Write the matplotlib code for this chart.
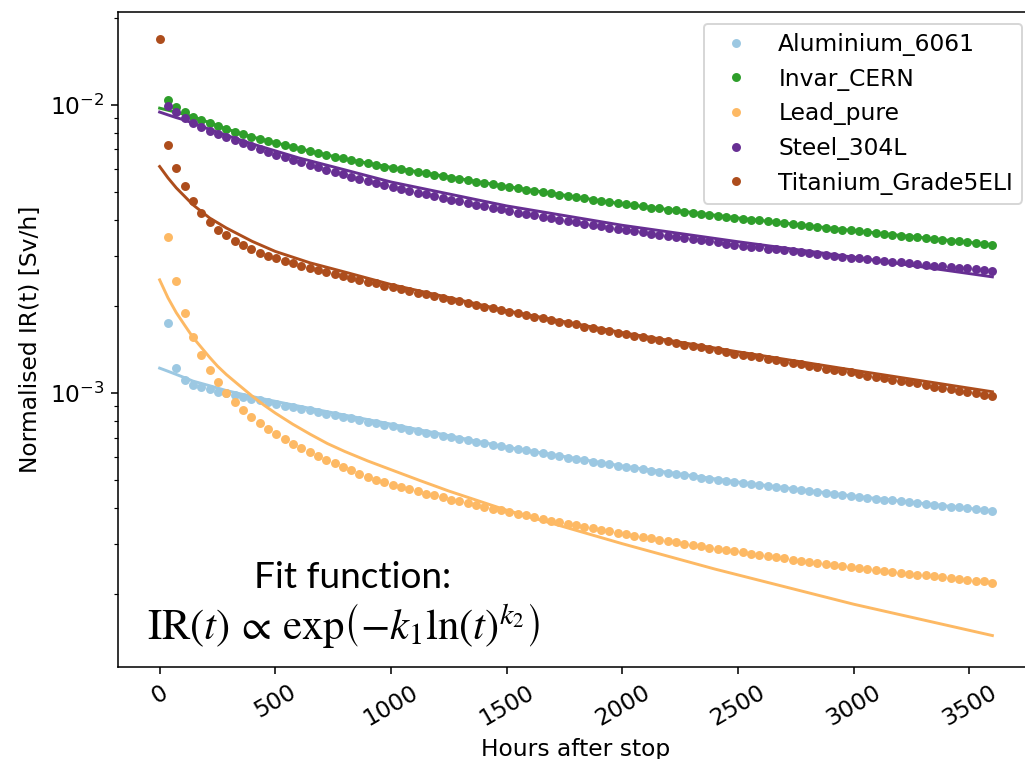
import matplotlib.pyplot as plt
import numpy as np

plt.rcParams['font.size'] = 12

# measurement times (hours after stop), one point every 36 h
hours = list(range(36, 3601, 36))
hours_ti = [0] + hours

# normalised dose rates, in units of 1e-3 Sv/h
al_6061 = [1.75, 1.22, 1.11, 1.07, 1.05, 1.03, 1.01, 0.997, 0.983, 0.969,
           0.955, 0.942, 0.929, 0.917, 0.904, 0.893, 0.881, 0.870, 0.858, 0.847,
           0.837, 0.826, 0.816, 0.805, 0.795, 0.785, 0.775, 0.766, 0.756, 0.747,
           0.738, 0.729, 0.720, 0.711, 0.702, 0.694, 0.686, 0.678, 0.670, 0.662,
           0.654, 0.646, 0.639, 0.632, 0.624, 0.617, 0.610, 0.604, 0.597, 0.590,
           0.584, 0.578, 0.572, 0.566, 0.560, 0.555, 0.549, 0.544, 0.538, 0.533,
           0.528, 0.523, 0.518, 0.514, 0.509, 0.505, 0.500, 0.496, 0.492, 0.488,
           0.483, 0.479, 0.476, 0.472, 0.468, 0.464, 0.460, 0.457, 0.453, 0.450,
           0.446, 0.443, 0.440, 0.437, 0.433, 0.430, 0.427, 0.424, 0.421, 0.418,
           0.415, 0.412, 0.409, 0.406, 0.403, 0.401, 0.398, 0.395, 0.393, 0.390]

invar_cern = [10.40, 9.82, 9.43, 9.11, 8.87, 8.64, 8.42, 8.23, 8.06, 7.91,
              7.76, 7.62, 7.49, 7.36, 7.25, 7.13, 7.02, 6.91, 6.81, 6.71,
              6.61, 6.52, 6.43, 6.35, 6.27, 6.19, 6.11, 6.04, 5.97, 5.91,
              5.84, 5.78, 5.71, 5.65, 5.59, 5.53, 5.47, 5.41, 5.36, 5.30,
              5.24, 5.19, 5.14, 5.08, 5.03, 4.98, 4.93, 4.88, 4.83, 4.79,
              4.74, 4.69, 4.65, 4.61, 4.56, 4.52, 4.48, 4.44, 4.40, 4.37,
              4.33, 4.30, 4.26, 4.23, 4.19, 4.16, 4.13, 4.09, 4.06, 4.03,
              4.00, 3.97, 3.94, 3.91, 3.88, 3.85, 3.83, 3.80, 3.77, 3.74,
              3.72, 3.69, 3.67, 3.64, 3.61, 3.59, 3.57, 3.54, 3.52, 3.49,
              3.47, 3.45, 3.42, 3.40, 3.38, 3.36, 3.34, 3.32, 3.29, 3.27]

lead_pure = [3.47, 2.44, 1.90, 1.57, 1.35, 1.20, 1.09, 0.997, 0.928, 0.873,
             0.827, 0.785, 0.749, 0.719, 0.691, 0.667, 0.646, 0.625, 0.606, 0.587,
             0.570, 0.553, 0.539, 0.525, 0.513, 0.501, 0.491, 0.481, 0.472, 0.464,
             0.456, 0.448, 0.441, 0.434, 0.427, 0.421, 0.415, 0.409, 0.403, 0.397,
             0.392, 0.386, 0.381, 0.376, 0.371, 0.366, 0.361, 0.357, 0.352, 0.348,
             0.343, 0.339, 0.335, 0.331, 0.327, 0.324, 0.320, 0.316, 0.313, 0.309,
             0.306, 0.303, 0.300, 0.297, 0.294, 0.291, 0.288, 0.285, 0.282, 0.280,
             0.277, 0.274, 0.272, 0.269, 0.267, 0.264, 0.262, 0.260, 0.258, 0.255,
             0.253, 0.251, 0.249, 0.247, 0.245, 0.243, 0.241, 0.240, 0.238, 0.236,
             0.234, 0.233, 0.231, 0.229, 0.228, 0.226, 0.225, 0.223, 0.222, 0.220]

steel_304l = [9.94, 9.43, 8.99, 8.64, 8.37, 8.12, 7.91, 7.72, 7.53, 7.35,
              7.18, 7.02, 6.86, 6.71, 6.57, 6.44, 6.31, 6.19, 6.07, 5.95,
              5.84, 5.74, 5.64, 5.54, 5.45, 5.36, 5.27, 5.19, 5.11, 5.04,
              4.96, 4.89, 4.82, 4.76, 4.69, 4.63, 4.57, 4.51, 4.45, 4.39,
              4.34, 4.29, 4.23, 4.18, 4.14, 4.09, 4.04, 4.00, 3.95, 3.91,
              3.87, 3.83, 3.79, 3.75, 3.71, 3.68, 3.64, 3.61, 3.57, 3.54,
              3.51, 3.48, 3.44, 3.41, 3.39, 3.36, 3.33, 3.30, 3.27, 3.25,
              3.22, 3.20, 3.17, 3.15, 3.13, 3.10, 3.08, 3.06, 3.04, 3.01,
              2.99, 2.97, 2.95, 2.93, 2.91, 2.90, 2.88, 2.86, 2.84, 2.82,
              2.81, 2.79, 2.77, 2.76, 2.74, 2.72, 2.71, 2.69, 2.68, 2.66]

ti_grade5eli = [16.9,
                7.26, 6.04, 5.23, 4.64, 4.23, 3.93, 3.69, 3.53, 3.38, 3.26,
                3.16, 3.07, 3.00, 2.93, 2.87, 2.82, 2.77, 2.72, 2.68, 2.63,
                2.59, 2.55, 2.51, 2.47, 2.43, 2.40, 2.36, 2.33, 2.29, 2.26,
                2.23, 2.20, 2.17, 2.14, 2.11, 2.08, 2.05, 2.02, 1.99, 1.97,
                1.94, 1.91, 1.89, 1.86, 1.84, 1.82, 1.79, 1.77, 1.75, 1.73,
                1.70, 1.68, 1.66, 1.64, 1.62, 1.60, 1.58, 1.56, 1.54, 1.53,
                1.51, 1.49, 1.47, 1.46, 1.44, 1.42, 1.41, 1.39, 1.37, 1.36,
                1.34, 1.33, 1.31, 1.30, 1.28, 1.27, 1.26, 1.24, 1.23, 1.21,
                1.20, 1.19, 1.18, 1.16, 1.15, 1.14, 1.13, 1.11, 1.10, 1.09,
                1.08, 1.07, 1.05, 1.04, 1.03, 1.02, 1.01, 0.998, 0.988, 0.977]

# fitted curves, same units
fit_al_t = [0, 36, 72, 108, 144, 216, 288, 400, 600, 1000, 1500, 2000, 2500, 3000, 3600]
fit_al = [1.22, 1.19, 1.16, 1.13, 1.10, 1.06, 1.02, 0.972, 0.901, 0.780, 0.649, 0.558, 0.491, 0.439, 0.390]

fit_invar_t = [0, 36, 72, 144, 216, 288, 400, 600, 800, 1000, 1500, 2000, 2500, 3000, 3600]
fit_invar = [9.74, 9.58, 9.42, 9.10, 8.67, 8.25, 7.74, 7.06, 6.49, 6.07, 5.21, 4.53, 4.05, 3.66, 3.27]

fit_lead_t = [0, 36, 72, 108, 144, 180, 216, 250, 288, 340, 400, 450, 500, 575, 650,
              725, 800, 900, 1000, 1125, 1250, 1500, 2000, 2400, 3000, 3600]
fit_lead = [2.47, 2.14, 1.90, 1.72, 1.56, 1.44, 1.33, 1.24, 1.16, 1.07, 0.976, 0.909, 0.852, 0.780, 0.720,
            0.668, 0.627, 0.581, 0.542, 0.497, 0.457, 0.392, 0.300, 0.245, 0.185, 0.144]

fit_steel_t = [0, 36, 72, 108, 144, 216, 288, 400, 600, 800, 1000, 1500, 2000, 2500, 3000, 3600]
fit_steel = [9.44, 9.23, 9.03, 8.86, 8.64, 8.22, 7.84, 7.32, 6.55, 5.95, 5.40, 4.46, 3.82, 3.35, 2.96, 2.53]

fit_ti_t = [0, 36, 72, 144, 216, 288, 400, 500, 650, 800, 1000, 1200, 1500, 2000, 2500, 3000, 3600]
fit_ti = [6.11, 5.58, 5.15, 4.50, 4.05, 3.74, 3.36, 3.10, 2.83, 2.63, 2.38, 2.19, 1.93, 1.62, 1.39, 1.20, 1.01]

materials = [
    ('Aluminium_6061', hours, al_6061, fit_al_t, fit_al, '#9cc8e2'),
    ('Invar_CERN', hours, invar_cern, fit_invar_t, fit_invar, '#2e9e2a'),
    ('Lead_pure', hours, lead_pure, fit_lead_t, fit_lead, '#fdb964'),
    ('Steel_304L', hours, steel_304l, fit_steel_t, fit_steel, '#672f93'),
    ('Titanium_Grade5ELI', hours_ti, ti_grade5eli, fit_ti_t, fit_ti, '#ad4d1c'),
]

fig = plt.figure(figsize=(1025 / 140, 759 / 140), dpi=140)
ax = fig.add_axes([118 / 1025, 92 / 759, 916 / 1025, 655 / 759])

for name, t, ir, ft, fit, col in materials:
    ax.plot(t, np.array(ir) * 1e-3, 'o', ms=3.6, color=col, label=name)
    ax.plot(ft, np.array(fit) * 1e-3, '-', lw=1.5, color=col)

ax.set_yscale('log')
ax.set_xlim(-180, 3780)
ax.set_ylim(1.12e-4, 2.1e-2)
ax.set_xticks(range(0, 3501, 500))
plt.setp(ax.get_xticklabels(), rotation=30)
ax.spines['right'].set_visible(False)
ax.set_xlabel('Hours after stop')
ax.set_ylabel('Normalised IR(t) [Sv/h]')
ax.legend(loc='upper right')

fig.text(353 / 1025, 1 - 577 / 759, 'Fit function:', ha='center', va='center',
         fontsize=19, family='Lato')
fig.text(344 / 1025, 1 - 626 / 759,
         r'$\mathrm{IR}(t)\,\propto\,\mathrm{exp}\left(-k_1\mathrm{ln}(t)^{k_2}\right)$',
         ha='center', va='center', fontsize=22, math_fontfamily='stix')

fig.savefig('out.png', dpi=140)
